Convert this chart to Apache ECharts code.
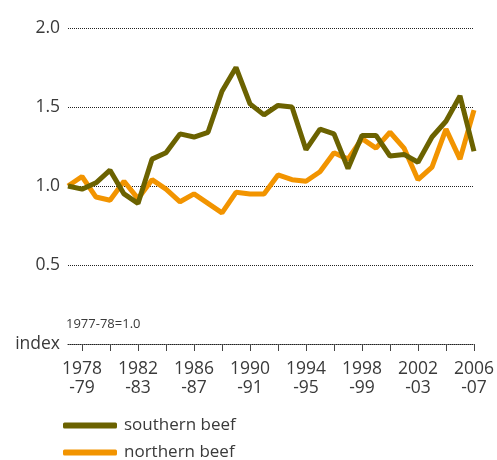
<!DOCTYPE html>
<html>
<head>
<meta charset="utf-8">
<script src="https://cdn.jsdelivr.net/npm/echarts@6/dist/echarts.min.js"></script>
<style>
  html, body { margin: 0; padding: 0; background: #fff; }
  #main { width: 497px; height: 460px; }
</style>
</head>
<body>
<div id="main"></div>
<script>
var years = [];
for (var y = 1977; y <= 2006; y++) {
  years.push(y + '-' + String((y + 1) % 100).padStart(2, '0'));
}
var southernBeef = [1.00, 0.98, 1.02, 1.10, 0.95, 0.89, 1.17, 1.21, 1.33, 1.31,
                    1.34, 1.60, 1.75, 1.52, 1.45, 1.51, 1.50, 1.23, 1.36, 1.33,
                    1.11, 1.32, 1.32, 1.19, 1.20, 1.15, 1.31, 1.41, 1.57, 1.22];
var northernBeef = [1.00, 1.06, 0.93, 0.91, 1.03, 0.92, 1.04, 0.98, 0.90, 0.95,
                    0.89, 0.83, 0.96, 0.95, 0.95, 1.07, 1.04, 1.03, 1.09, 1.21,
                    1.17, 1.30, 1.24, 1.34, 1.24, 1.04, 1.12, 1.36, 1.17, 1.48];

var font = '"Open Sans", "Noto Sans", sans-serif';
var textColor = '#3a3a3a';

function legendFor(name, top) {
  return {
    data: [name],
    left: 58, top: top,
    icon: 'roundRect',
    itemWidth: 54, itemHeight: 6,
    textStyle: { fontSize: 17, color: textColor, fontFamily: font, padding: [0, 0, 0, 2] }
  };
}

var myChart = echarts.init(document.getElementById('main'));
var option = {
  animation: false,
  textStyle: { fontFamily: font },
  grid: { left: 68, right: 20, top: 28, bottom: 116 },
  graphic: [{
    type: 'text', left: 66, top: 318,
    style: { text: '1977-78=1.0', font: '13px ' + font, fill: textColor }
  }],
  legend: [legendFor('southern beef', 412), legendFor('northern beef', 439)],
  xAxis: {
    type: 'category',
    boundaryGap: false,
    data: years,
    axisLine: { lineStyle: { color: '#222', type: 'dotted', width: 1 } },
    axisTick: {
      interval: function (i) { return i % 2 === 1; },
      length: 7,
      lineStyle: { color: '#444' }
    },
    axisLabel: {
      interval: function (i) { return i % 4 === 1; },
      margin: 16,
      fontSize: 17.5,
      lineHeight: 19,
      color: textColor,
      formatter: function (v) {
        var p = v.split('-');
        return p[0] + '\n-' + p[1];
      }
    }
  },
  yAxis: {
    type: 'value',
    min: 0, max: 2, interval: 0.5,
    axisLine: { show: false },
    axisTick: { show: false },
    splitLine: { lineStyle: { color: '#222', type: 'dotted', width: 1 } },
    axisLabel: {
      margin: 8,
      fontSize: 17.5,
      color: textColor,
      formatter: function (v) { return v === 0 ? 'index' : v.toFixed(1); }
    }
  },
  series: [
    {
      name: 'northern beef', type: 'line', data: northernBeef,
      symbol: 'none', color: '#f29400',
      lineStyle: { width: 5, color: '#f29400' }
    },
    {
      name: 'southern beef', type: 'line', data: southernBeef,
      symbol: 'none', color: '#6b6200',
      lineStyle: { width: 5, color: '#6b6200' }
    }
  ]
};
myChart.setOption(option);
</script>
</body>
</html>
